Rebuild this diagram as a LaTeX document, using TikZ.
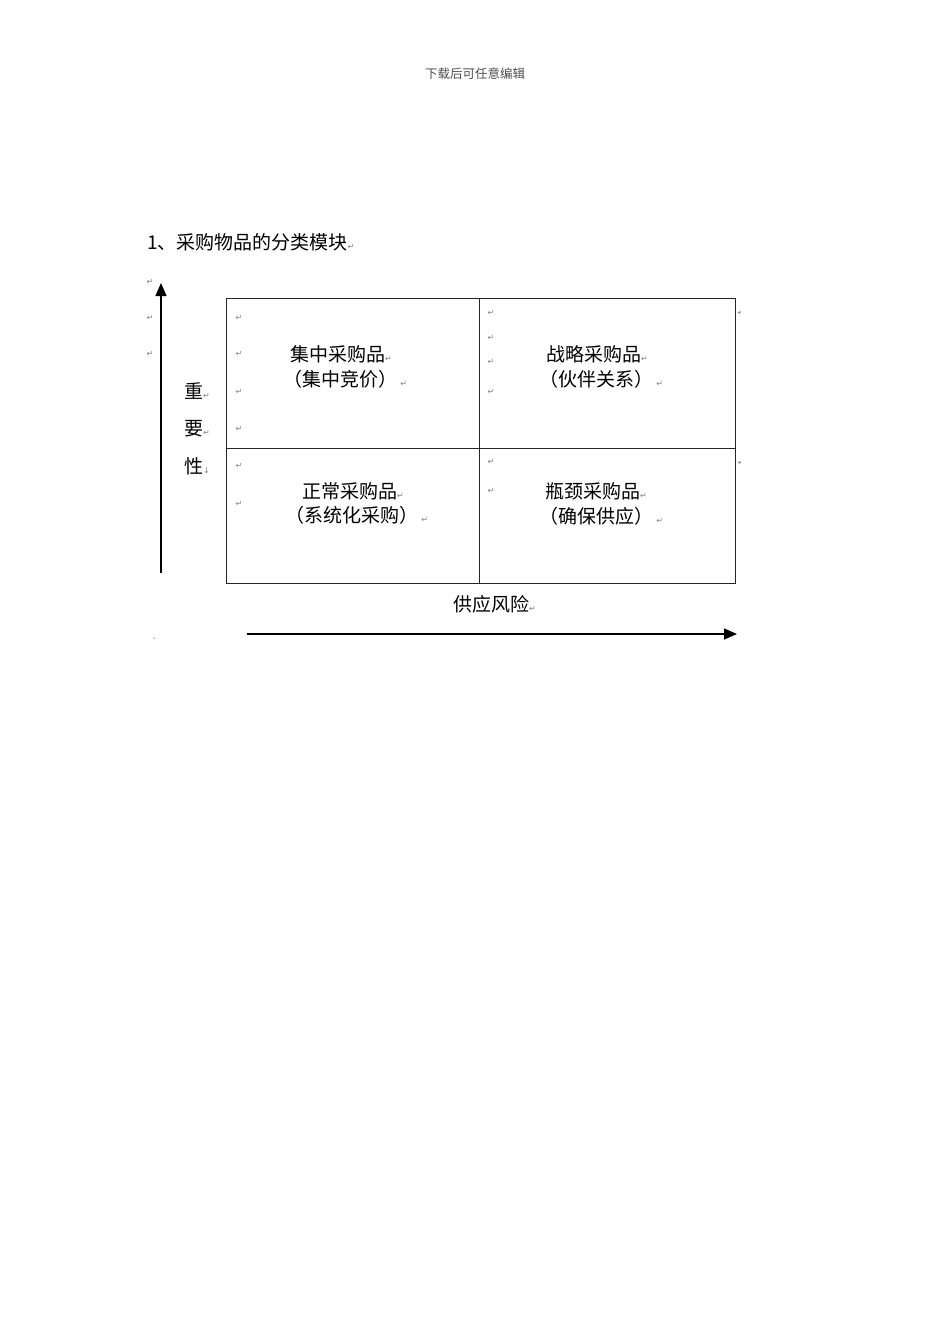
\documentclass[tikz,border=0pt]{standalone}
\usepackage{fontspec}
\newfontfamily\cjk{Noto Sans CJK SC}
\newfontfamily\symfont{DejaVu Sans}
\usetikzlibrary{arrows.meta}
\newcommand\retmk{{\symfont\fontsize{8}{8}\selectfont\color{gray}↵}}
\tikzset{
  cell/.style={draw=black!85, line width=1.4pt, minimum width=253pt, minimum height=150pt, inner sep=0pt, anchor=north west},
  cellb/.style={cell, minimum height=135pt},
  big/.style={font=\cjk\fontsize{19}{22}\selectfont, inner sep=0pt},
  mk/.style={font=\symfont\fontsize{8}{8}\selectfont, text=gray, inner sep=0pt},
  axis/.style={line width=1.4pt, -{Triangle[length=13pt,width=11pt]}}
}
\begin{document}
\begin{tikzpicture}[x=1pt,y=-1pt]
\useasboundingbox (0,0) rectangle (950,1344);
% header
\node[font=\cjk\fontsize{12.5}{14}\selectfont, text=black!70, inner sep=0pt] (hdr) at (475,74) {下载后可任意编辑};
% title
\node[big, anchor=west] (title) at (147,242) {1、采购物品的分类模块\retmk};
% grid cells
\node[cell] (q1) at (226,298) {};
\node[cell, minimum width=256pt] (q2) at (479,298) {};
\node[cellb] (q3) at (226,448) {};
\node[cellb, minimum width=256pt] (q4) at (479,448) {};
% quadrant texts
\node[big, anchor=west] (t1a) at (290,354) {集中采购品\retmk};
\node[big, anchor=west] (t1b) at (283,379) {（集中竞价）\,\retmk};
\node[big, anchor=west] (t2a) at (546,354) {战略采购品\retmk};
\node[big, anchor=west] (t2b) at (539,379) {（伙伴关系）\,\retmk};
\node[big, anchor=west] (t3a) at (302,491) {正常采购品\retmk};
\node[big, anchor=west] (t3b) at (285,515) {（系统化采购）\,\retmk};
\node[big, anchor=west] (t4a) at (545,491) {瓶颈采购品\retmk};
\node[big, anchor=west] (t4b) at (539,516) {（确保供应）\,\retmk};
% vertical axis label
\node[big, anchor=west] (v1) at (184,391) {重\retmk};
\node[big, anchor=west] (v2) at (184,429) {要\retmk};
\node[big, anchor=west] (v3) at (184,466) {性{\symfont\fontsize{8}{8}\selectfont\color{gray}↓}};
% horizontal axis label
\node[big, anchor=west] (hx) at (453,604) {供应风险\retmk};
% axes
\coordinate (ya) at (161,573);
\coordinate (yb) at (161,283);
\draw[axis] (ya) -- (yb);
\coordinate (xa) at (247,634);
\coordinate (xb) at (737,634);
\draw[axis] (xa) -- (xb);
% paragraph marks
\foreach \px/\py [count=\i] in {150/282,150/318,150/354,
  239/318,239/354,239/392,239/429,239/466,239/504,
  491/313,491/338,491/362,491/392,491/462,491/491}{
  \node[mk] (m\i) at (\px,\py) {↵};
}
\node[mk, font=\symfont\fontsize{6}{6}\selectfont] (r1) at (739,313) {◂};
\node[mk, font=\symfont\fontsize{6}{6}\selectfont] (r2) at (739,463) {◂};
\node[circle, fill=gray, inner sep=0pt, minimum size=1.5pt] (dot) at (154,638) {};
\end{tikzpicture}
\end{document}
